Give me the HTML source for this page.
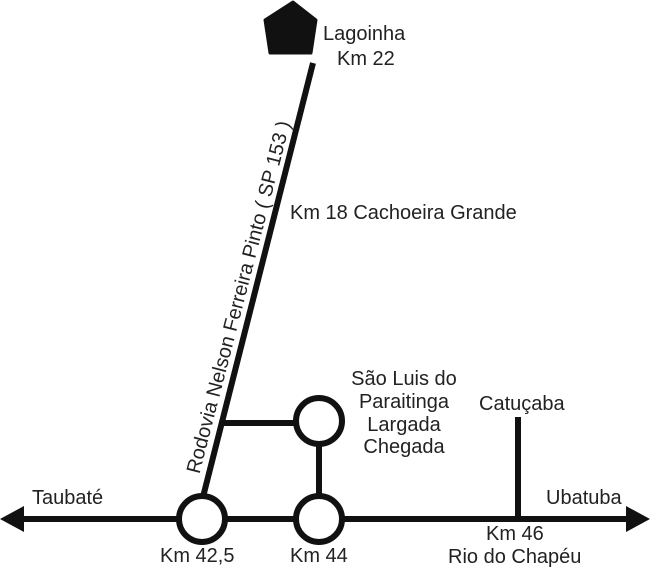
<!DOCTYPE html>
<html><head><meta charset="utf-8"><style>
body{margin:0;background:#fff;}
svg text{font-family:"Liberation Sans",Arial,sans-serif;font-size:20px;fill:#222;}
</style></head><body>
<svg width="650" height="567" viewBox="0 0 650 567">
<g stroke="#111" stroke-width="6" fill="none">
<line x1="20" y1="519" x2="628" y2="519"/>
<line x1="313" y1="63" x2="203" y2="497"/>
<line x1="222" y1="423" x2="297" y2="423"/>
<line x1="319" y1="445" x2="319" y2="496"/>
<line x1="518" y1="417" x2="518" y2="519"/>
<circle cx="202" cy="519" r="23" fill="#fff"/>
<circle cx="319" cy="519" r="23" fill="#fff"/>
<circle cx="319" cy="421" r="23" fill="#fff"/>
</g>
<polygon points="0,519 24,506 24,532" fill="#111"/>
<polygon points="650,519 626,506 626,532" fill="#111"/>
<polygon points="293,2 316,20 311,53 270,53 265,20" fill="#111" stroke="#111" stroke-width="3" stroke-linejoin="round"/>
<text x="323" y="40">Lagoinha</text>
<text x="337" y="65">Km 22</text>
<text x="290" y="219">Km 18  Cachoeira Grande</text>
<text x="404" y="385" text-anchor="middle">São Luis do</text>
<text x="404" y="408" text-anchor="middle">Paraitinga</text>
<text x="404" y="431" text-anchor="middle">Largada</text>
<text x="404" y="453" text-anchor="middle">Chegada</text>
<text x="479" y="410">Catuçaba</text>
<text x="32" y="504">Taubaté</text>
<text x="546" y="504">Ubatuba</text>
<text x="160" y="562">Km 42,5</text>
<text x="290" y="562">Km 44</text>
<text x="486" y="540">Km 46</text>
<text x="448" y="563">Rio do Chapéu</text>
<text transform="translate(238,297) rotate(-75.5)" text-anchor="middle" y="7">Rodovia Nelson Ferreira Pinto ( SP 153 )</text>
</svg>
</body></html>
